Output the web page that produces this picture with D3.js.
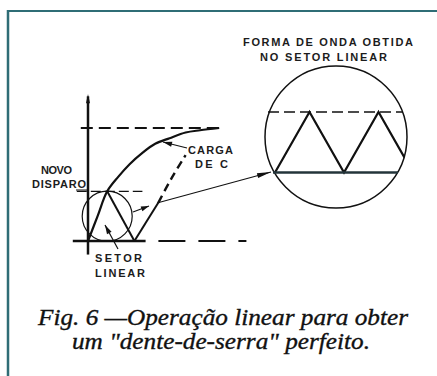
<!DOCTYPE html>
<html>
<head>
<meta charset="utf-8">
<script src="https://cdn.jsdelivr.net/npm/d3@7"></script>
<style>
  body { margin: 0; background: #fff; }
  svg { display: block; }
  .lbl { font-family: "Liberation Sans", Arial, sans-serif; font-weight: bold; font-size: 11px; fill: #1c1c1c; }
  .cap { font-family: "Liberation Serif", "Times New Roman", serif; font-style: italic; font-size: 23px; fill: #111; stroke: #111; stroke-width: 0.35; }
</style>
</head>
<body>
<div class="chart"></div>
<script>
// charging curve of C (time, voltage in % of supply)
var curveT = [0, 6, 12, 19, 26, 34, 42, 51, 61, 70, 82]
var curveV = [0, 22, 44, 57, 68, 78, 86, 91, 96, 98, 100]
// discharge after "novo disparo", then the new ramp
var dropT = [12, 29]
var dropV = [44, 0]
var rampT = [29, 44]
var rampV = [0, 34]
var rampDashT = [44, 52, 61]
var rampDashV = [34, 55, 76]
// levels
var topLevel = 100
var triggerLevel = 44
// wave seen in the linear sector (magnified)
var waveT = [0, 0.5, 1, 1.5, 2]
var waveV = [0, 1, 0, 1, 0]

var W = 437, H = 376

const svg = d3.select(".chart").append("svg")
  .attr("width", W)
  .attr("height", H)

// frame
svg.append("line").attr("x1", 8).attr("x2", W).attr("y1", 11).attr("y2", 11)
  .attr("stroke", "#2f6d76").attr("stroke-width", 2)
svg.append("line").attr("x1", 8).attr("x2", 8).attr("y1", 10).attr("y2", H)
  .attr("stroke", "#2f6d76").attr("stroke-width", 2.5)

const x = d3.scaleLinear().domain([0, 100]).range([88, 248])
const y = d3.scaleLinear().domain([0, 100]).range([241, 128])

const line = d3.line()
  .x(function(d) { return x(d[0]) })
  .y(function(d) { return y(d[1]) })
const curve = d3.line()
  .x(function(d) { return x(d[0]) })
  .y(function(d) { return y(d[1]) })
  .curve(d3.curveCatmullRom)

function zip(a, b) { return a.map(function(v, i) { return [v, b[i]] }) }

var g = svg.append("g").attr("fill", "none").attr("stroke", "#111")

// axes
g.append("line").attr("x1", x(0)).attr("x2", x(0)).attr("y1", y(128)).attr("y2", y(-12))
  .attr("stroke-width", 2.5)
g.append("path").attr("d", d3.line()([[x(0) - 2, y(122)], [x(0), y(130)], [x(0) + 2, y(122)]]))
  .attr("fill", "#111").attr("stroke", "none")
g.append("line").attr("x1", x(-9.5)).attr("x2", x(36)).attr("y1", y(0)).attr("y2", y(0))
  .attr("stroke-width", 2.5)
g.append("line").attr("x1", x(44)).attr("x2", x(99)).attr("y1", y(0)).attr("y2", y(0))
  .attr("stroke-width", 1.8).attr("stroke-dasharray", "27,13")

// level lines
g.append("line").attr("x1", x(-4.5)).attr("x2", x(82)).attr("y1", y(topLevel)).attr("y2", y(topLevel))
  .attr("stroke-width", 2).attr("stroke-dasharray", "12,6")
g.append("line").attr("x1", x(-7)).attr("x2", x(34)).attr("y1", y(triggerLevel)).attr("y2", y(triggerLevel))
  .attr("stroke-width", 1.3).attr("stroke-dasharray", "10,4")

// charging curve and sawtooth
g.append("path").attr("d", curve(zip(curveT, curveV))).attr("stroke-width", 2.2)
g.append("path").attr("d", line(zip(dropT, dropV))).attr("stroke-width", 2)
g.append("path").attr("d", line(zip(rampT, rampV))).attr("stroke-width", 2)
g.append("path").attr("d", curve(zip(rampDashT, rampDashV))).attr("stroke-width", 2.4)
  .attr("stroke-dasharray", "8,5")

// small magnifier circle
g.append("circle").attr("cx", x(12)).attr("cy", y(22)).attr("r", 25).attr("stroke-width", 1.2)

function arrow(x1, y1, x2, y2, w, len, half) {
  g.append("line").attr("x1", x1).attr("y1", y1).attr("x2", x2).attr("y2", y2)
    .attr("stroke-width", w)
  var a = Math.atan2(y2 - y1, x2 - x1)
  var bx = x2 - len * Math.cos(a), by = y2 - len * Math.sin(a)
  var nx = -Math.sin(a) * half, ny = Math.cos(a) * half
  g.append("path").attr("d", d3.line()([[x2, y2], [bx + nx, by + ny], [bx - nx, by - ny]]) + "Z")
    .attr("fill", "#111").attr("stroke", "none")
}

arrow(118, 249, 105, 225, 1.2, 9, 2.6)      // setor linear
arrow(133, 212, 149, 206, 1.2, 8, 2.6)      // small circle
arrow(157, 203, 271, 172, 1.1, 14, 2.4)     // to the magnified wave
arrow(187, 148, 163, 142, 1.2, 9, 2.6)      // carga de C

// magnified wave
var cx = 336, cy = 137, R = 71
svg.append("clipPath").attr("id", "lens").append("circle").attr("cx", cx).attr("cy", cy).attr("r", R)
const wx = d3.scaleLinear().domain([0, 1]).range([275, 344])
const wy = d3.scaleLinear().domain([0, 1]).range([172.5, 112])
g.append("circle").attr("cx", cx).attr("cy", cy).attr("r", R).attr("stroke-width", 1.5)
g.append("line").attr("x1", 268).attr("x2", 403).attr("y1", wy(1)).attr("y2", wy(1))
  .attr("stroke-width", 1.3).attr("stroke-dasharray", "11,5")
g.append("path").attr("clip-path", "url(#lens)")
  .attr("d", d3.line().x(function(d) { return wx(d[0]) }).y(function(d) { return wy(d[1]) })(zip(waveT, waveV)))
  .attr("stroke-width", 2.2)
g.append("line").attr("x1", 273).attr("x2", 398).attr("y1", wy(0)).attr("y2", wy(0))
  .attr("stroke", "#23343a").attr("stroke-width", 2.6)

// labels
function label(t, x0, x1, yb) {
  svg.append("text").attr("class", "lbl").attr("x", x0).attr("y", yb)
    .attr("textLength", x1 - x0).attr("lengthAdjust", "spacing").text(t)
}
label("FORMA DE ONDA OBTIDA", 243, 413, 46)
label("NO SETOR LINEAR", 260, 387, 61)
label("CARGA", 188, 233, 154)
label("DE C", 195, 228, 167.5)
label("NOVO", 41, 72, 174)
label("DISPARO", 32, 86, 187.5)
label("SETOR", 95, 142, 262)
label("LINEAR", 95, 145, 277)
// underline of DISPARO
g.append("line").attr("x1", 76).attr("x2", 88).attr("y1", 190).attr("y2", 190).attr("stroke-width", 1)

svg.append("text").attr("class", "cap").attr("x", 38).attr("y", 325)
  .attr("textLength", 370).attr("lengthAdjust", "spacingAndGlyphs")
  .text("Fig. 6 \u2014Operação linear para obter")
svg.append("text").attr("class", "cap").attr("x", 72).attr("y", 349)
  .attr("textLength", 298).attr("lengthAdjust", "spacingAndGlyphs")
  .text("um \"dente-de-serra\" perfeito.")
</script>
</body>
</html>
